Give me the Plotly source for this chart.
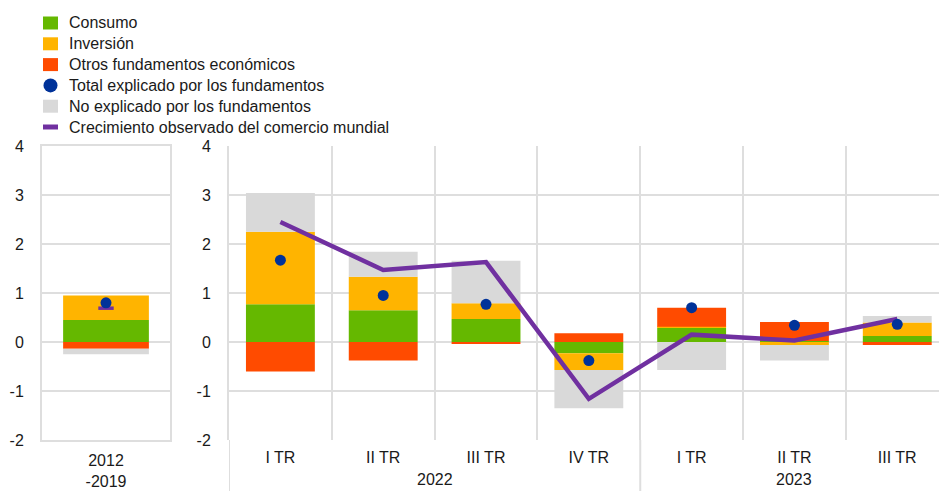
import plotly.graph_objects as go

# ---------------- Data ----------------
hist_label = ["2012<br>-2019"]
hist_consumo = [0.45]
hist_inversion = [0.50]
hist_otros = [-0.14]
hist_no_explicado = [-0.11]
hist_total = [0.80]
hist_observado = [0.69]

years = ["2022", "2022", "2022", "2022", "2023", "2023", "2023"]
quarters = ["I TR", "II TR", "III TR", "IV TR", "I TR", "II TR", "III TR"]
consumo = [0.77, 0.65, 0.47, -0.23, 0.29, 0.02, 0.12]
inversion = [1.48, 0.68, 0.32, -0.34, 0.02, -0.06, 0.28]
otros = [-0.60, -0.38, -0.03, 0.18, 0.39, 0.39, -0.06]
no_explicado = [0.79, 0.51, 0.87, -0.78, -0.57, -0.32, 0.13]
total = [1.67, 0.95, 0.77, -0.38, 0.70, 0.34, 0.36]
observado = [2.45, 1.47, 1.63, -1.16, 0.15, 0.03, 0.47]

y_tick_vals = [-2, -1, 0, 1, 2, 3, 4]
y_tick_text = ["-2", "-1", "0", "1", "2", "3", "4"]

legend_names = ["Consumo", "Inversión", "Otros fundamentos económicos",
                "Total explicado por los fundamentos", "No explicado por los fundamentos",
                "Crecimiento observado del comercio mundial"]

# ---------------- Styles ----------------
W, H = 939, 491
C_GREEN = "#65b800"
C_ORANGE = "#ffb400"
C_RED = "#ff4b00"
C_BLUE = "#003299"
C_GRAY = "#d9d9d9"
C_PURPLE = "#7030a0"
GRID = "#dedede"
FONT = "Arial, Liberation Sans, sans-serif"
TXT = "#1a1a1a"
BW = 0.67

def px_x(x):
    return x / W

def px_y(y):
    return 1 - y / H

y_dom = [px_y(440), px_y(146)]
x1_dom = [px_x(42), px_x(170)]
x2_dom = [px_x(229), 1.0]

# unique category keys for the quarterly panel (labels come from `quarters`)
qkeys = [f"{q} {y}" for q, y in zip(quarters, years)]

fig = go.Figure()

series = [("Consumo", hist_consumo, consumo, C_GREEN),
          ("Inversión", hist_inversion, inversion, C_ORANGE),
          ("Otros fundamentos económicos", hist_otros, otros, C_RED),
          ("No explicado por los fundamentos", hist_no_explicado, no_explicado, C_GRAY)]

for name, hv, v, col in series:
    fig.add_trace(go.Bar(x=hist_label, y=hv, name=name, marker=dict(color=col, line=dict(width=0)),
                         width=BW, xaxis="x", yaxis="y", showlegend=False))
    fig.add_trace(go.Bar(x=qkeys, y=v, name=name, marker=dict(color=col, line=dict(width=0)),
                         width=BW, xaxis="x2", yaxis="y2", showlegend=False))

fig.add_trace(go.Scatter(x=hist_label, y=hist_observado, mode="markers",
                         marker=dict(symbol="line-ew", size=11, line=dict(color=C_PURPLE, width=3.5)),
                         xaxis="x", yaxis="y", showlegend=False))
fig.add_trace(go.Scatter(x=qkeys, y=observado, mode="lines", line=dict(color=C_PURPLE, width=4.5),
                         xaxis="x2", yaxis="y2", showlegend=False))
fig.add_trace(go.Scatter(x=hist_label, y=hist_total, mode="markers",
                         marker=dict(color=C_BLUE, size=11), xaxis="x", yaxis="y", showlegend=False))
fig.add_trace(go.Scatter(x=qkeys, y=total, mode="markers",
                         marker=dict(color=C_BLUE, size=11), xaxis="x2", yaxis="y2", showlegend=False))

# ---------------- Manual legend ----------------
shapes = []
annotations = []
leg_y0 = 23
leg_dy = 20.8
sw_x0, sw_x1 = 43, 58
kinds = [("rect", C_GREEN), ("rect", C_ORANGE), ("rect", C_RED),
         ("circle", C_BLUE), ("rect", C_GRAY), ("line", C_PURPLE)]
for i, (name, (kind, col)) in enumerate(zip(legend_names, kinds)):
    yc = leg_y0 + i * leg_dy
    if kind == "rect":
        shapes.append(dict(type="rect", xref="paper", yref="paper",
                           x0=px_x(sw_x0), x1=px_x(sw_x1), y0=px_y(yc + 6.5), y1=px_y(yc - 6.5),
                           fillcolor=col, line=dict(width=0)))
    elif kind == "circle":
        shapes.append(dict(type="circle", xref="paper", yref="paper",
                           x0=px_x(43.5), x1=px_x(57.5), y0=px_y(yc + 7), y1=px_y(yc - 7),
                           fillcolor=col, line=dict(width=0)))
    else:
        shapes.append(dict(type="rect", xref="paper", yref="paper",
                           x0=px_x(sw_x0), x1=px_x(sw_x1), y0=px_y(yc + 2.5), y1=px_y(yc - 2.5),
                           fillcolor=col, line=dict(width=0)))
    annotations.append(dict(text=name, xref="paper", yref="paper", x=px_x(67), y=px_y(yc),
                            xanchor="left", yanchor="middle", showarrow=False,
                            font=dict(family=FONT, size=16, color=TXT)))

# ---------------- Year group labels and dividers ----------------
year_groups = []
for i, y in enumerate(years):
    if not year_groups or year_groups[-1][0] != y:
        year_groups.append([y, i, i])
    else:
        year_groups[-1][2] = i
for y, i0, i1 in year_groups:
    annotations.append(dict(text=y, xref="x2", yref="paper", x=(i0 + i1) / 2, y=px_y(490),
                            xanchor="center", yanchor="bottom", showarrow=False,
                            font=dict(family=FONT, size=16, color=TXT)))
    shapes.append(dict(type="line", xref="x2", yref="paper", x0=i0 - 0.5, x1=i0 - 0.5,
                       y0=0, y1=y_dom[0], line=dict(color=GRID, width=2)))

axis_font = dict(family=FONT, size=16, color=TXT)

fig.update_layout(
    width=W, height=H,
    autosize=False,
    margin=dict(l=0, r=0, t=0, b=0, pad=0),
    paper_bgcolor="white", plot_bgcolor="white",
    barmode="relative",
    font=dict(family=FONT, size=16, color=TXT),
    showlegend=False,
    shapes=shapes,
    annotations=annotations,
    xaxis=dict(domain=x1_dom, anchor="y", type="category", range=[-0.5, 0.5],
               showgrid=False, showline=True, mirror=True, linecolor=GRID, linewidth=2,
               ticks="", tickfont=axis_font, ticklabelstandoff=5, automargin=False),
    yaxis=dict(domain=y_dom, anchor="x", range=[-2, 4], tickmode="array",
               tickvals=y_tick_vals, ticktext=y_tick_text, showgrid=True,
               gridcolor=GRID, gridwidth=2, zeroline=True, zerolinecolor=GRID, zerolinewidth=2,
               showline=True, mirror=True, linecolor=GRID, linewidth=2,
               ticks="", tickfont=axis_font, ticklabelstandoff=13, automargin=False),
    xaxis2=dict(domain=x2_dom, anchor="y2", type="category", range=[-0.5, 6.406],
                tickmode="array", tickvals=qkeys, ticktext=quarters,
                tickson="boundaries", showgrid=True, gridcolor=GRID, gridwidth=2,
                showline=False, ticks="", tickfont=axis_font, ticklabelstandoff=6, automargin=False),
    yaxis2=dict(domain=y_dom, anchor="x2", range=[-2, 4], tickmode="array",
                tickvals=y_tick_vals, ticktext=y_tick_text, showgrid=True,
                gridcolor=GRID, gridwidth=2, zeroline=True, zerolinecolor=GRID, zerolinewidth=2,
                showline=True, linecolor=GRID, linewidth=2,
                ticks="", tickfont=axis_font, ticklabelstandoff=13, automargin=False),
)

fig.write_html("out.html", config={"displayModeBar": False},
               post_script="document.body.style.margin='0';document.body.style.overflow='hidden';")
